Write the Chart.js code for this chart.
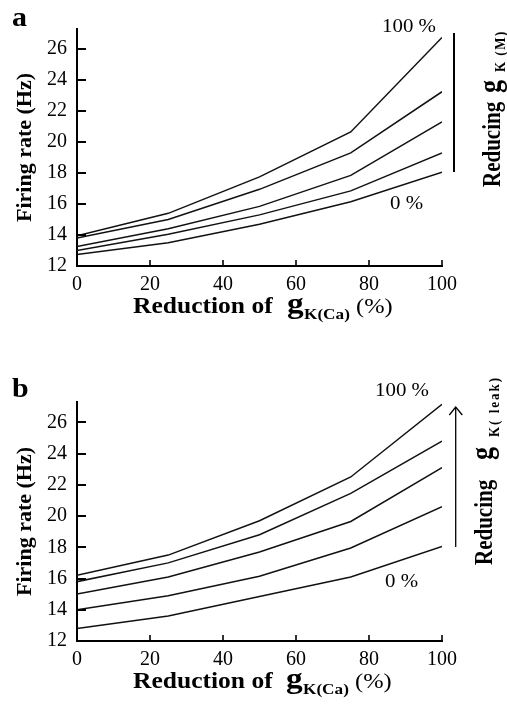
<!DOCTYPE html>
<html><head><meta charset="utf-8">
<script src="https://cdn.jsdelivr.net/npm/chart.js@4.4.1/dist/chart.umd.min.js"></script>
<style>
html,body{margin:0;padding:0;background:#fff;}
#wrap{position:relative;width:507px;height:705px;overflow:hidden;background:#fff;font-family:"Liberation Serif","Times New Roman",serif;color:#000;}
canvas{position:absolute;left:0;}
.t{position:absolute;white-space:nowrap;line-height:1;transform-origin:0 0;}
.h{transform:scaleX(1.11);}
.r{transform:rotate(-90deg) scaleY(1.2);}
.b{font-weight:bold;}
</style></head><body>
<div id="wrap">
<canvas id="ca" width="507" height="330" style="top:0;width:507px;height:330px"></canvas>
<canvas id="cb" width="507" height="375" style="top:330px;width:507px;height:375px"></canvas>

<svg width="507" height="705" style="position:absolute;left:0;top:0">
  <line x1="454" y1="33" x2="454" y2="172" stroke="#000" stroke-width="2"/>
  <line x1="455.7" y1="407.5" x2="455.7" y2="547" stroke="#000" stroke-width="1.3"/>
  <polyline points="449.3,415 455.7,407 462.3,415" fill="none" stroke="#000" stroke-width="1.3"/>
</svg>

<!-- panel letters -->
<div class="t h b" style="left:12px;top:4px;font-size:27px">a</div>
<div class="t h b" style="left:12px;top:375px;font-size:27px">b</div>

<!-- series end labels -->
<div class="t" style="left:382px;top:17px;font-size:18px;transform:scaleX(1.16)">100 %</div>
<div class="t" style="left:390px;top:194px;font-size:18px;transform:scaleX(1.16)">0 %</div>
<div class="t" style="left:375px;top:381px;font-size:18px;transform:scaleX(1.16)">100 %</div>
<div class="t" style="left:385px;top:572px;font-size:18px;transform:scaleX(1.16)">0 %</div>

<!-- x axis titles -->
<div class="t h b" style="left:133px;top:293.7px;font-size:23px">Reduction of</div>
<div class="t h b" style="left:287px;top:288px;font-size:30px">g</div>
<div class="t h b" style="left:304px;top:305.5px;font-size:15.5px">K(Ca)</div>
<div class="t h" style="left:356px;top:294.6px;font-size:22px">(%)</div>

<div class="t h b" style="left:133px;top:668.7px;font-size:23px">Reduction of</div>
<div class="t h b" style="left:286px;top:663px;font-size:30px">g</div>
<div class="t h b" style="left:303px;top:680.5px;font-size:15.5px">K(Ca)</div>
<div class="t h" style="left:355px;top:669.6px;font-size:22px">(%)</div>

<!-- rotated right labels -->
<div class="t r b" style="left:479.9px;top:187px;font-size:21px">Reducing</div>
<div class="t r b" style="left:474.9px;top:93px;font-size:26px">g</div>
<div class="t r b" style="left:491.9px;top:72px;font-size:13px;letter-spacing:1.5px">K (M)</div>

<div class="t r b" style="left:471.9px;top:565px;font-size:21px">Reducing</div>
<div class="t r b" style="left:466.9px;top:460px;font-size:26px">g</div>
<div class="t r b" style="left:485.9px;top:437px;font-size:13px;letter-spacing:2px">K( leak)</div>
</div>

<script>
// ---- data ----
const reductionKCa = [0, 25, 50, 75, 100];          // x: reduction of gK(Ca) (%)
const xTickValues = [0, 20, 40, 60, 80, 100];
const yTickValues = [12, 14, 16, 18, 20, 22, 24, 26];
const yMin = 12;
const yMax = 27.3;

// panel a: reducing gK(M) 0% .. 100%
const a_gKM_100 = [13.95, 15.4, 17.75, 20.65, 26.75];
const a_gKM_75  = [13.8, 15.0, 16.95, 19.3, 23.25];
const a_gKM_50  = [13.25, 14.4, 15.85, 17.85, 21.3];
const a_gKM_25  = [13.0, 14.05, 15.3, 16.85, 19.3];
const a_gKM_0   = [12.75, 13.5, 14.7, 16.15, 18.05];

// panel b: reducing gK(leak) 0% .. 100%
const b_gKleak_100 = [16.2, 17.5, 19.7, 22.5, 27.15];
const b_gKleak_75  = [15.8, 17.0, 18.8, 21.45, 24.8];
const b_gKleak_50  = [15.0, 16.1, 17.7, 19.65, 23.1];
const b_gKleak_25  = [14.0, 14.9, 16.15, 17.95, 20.6];
const b_gKleak_0   = [12.8, 13.6, 14.85, 16.1, 18.05];

const panelA = [a_gKM_100, a_gKM_75, a_gKM_50, a_gKM_25, a_gKM_0];
const panelB = [b_gKleak_100, b_gKleak_75, b_gKleak_50, b_gKleak_25, b_gKleak_0];
const seriesNames = ['100 %', '75 %', '50 %', '25 %', '0 %'];

Chart.defaults.font.family = "'Liberation Serif', 'Times New Roman', serif";
Chart.defaults.color = '#000';

const inwardTicks = {
  id: 'inwardTicks',
  afterDatasetsDraw(chart) {
    const {ctx, chartArea, scales} = chart;
    ctx.save();
    ctx.strokeStyle = '#000';
    ctx.lineWidth = 2;
    scales.y.ticks.forEach(t => {
      if (t.value === scales.y.min) return;
      const py = Math.round(scales.y.getPixelForValue(t.value)) ;
      ctx.beginPath(); ctx.moveTo(chartArea.left, py); ctx.lineTo(chartArea.left + 9, py); ctx.stroke();
    });
    ctx.lineWidth = 1.6;
    scales.x.ticks.forEach(t => {
      if (t.value === scales.x.min) return;
      const px = scales.x.getPixelForValue(t.value);
      ctx.beginPath(); ctx.moveTo(px, chartArea.bottom); ctx.lineTo(px, chartArea.bottom - 6); ctx.stroke();
    });
    ctx.restore();
  }
};

function makeChart(id, series, canvasH, topPad, axisBottom) {
  new Chart(document.getElementById(id), {
    type: 'line',
    data: {
      datasets: series.map((arr, i) => ({
        label: seriesNames[i],
        data: reductionKCa.map((x, k) => ({x: x, y: arr[k]})),
        borderColor: '#111',
        borderWidth: 1.5,
        pointRadius: 0,
        tension: 0,
        fill: false
      }))
    },
    options: {
      responsive: false,
      maintainAspectRatio: false,
      animation: false,
      devicePixelRatio: 1,
      layout: {padding: {left: 0, right: 65, top: topPad, bottom: 0}},
      plugins: {legend: {display: false}, tooltip: {enabled: false}},
      scales: {
        x: {
          type: 'linear',
          min: 0, max: 100,
          bounds: 'data',
          afterBuildTicks: s => { s.ticks = xTickValues.map(v => ({value: v})); },
          afterFit: s => { s.height = canvasH - axisBottom; },
          grid: {display: false, drawTicks: false},
          border: {display: true, color: '#000', width: 2},
          ticks: {font: {size: 20}, color: '#000', padding: 7, maxRotation: 0, autoSkip: false}
        },
        y: {
          type: 'linear',
          min: yMin, max: yMax,
          bounds: 'data',
          afterBuildTicks: s => { s.ticks = yTickValues.map(v => ({value: v})); },
          afterFit: s => { s.width = 77; },
          grid: {display: false, drawTicks: false},
          border: {display: true, color: '#000', width: 2},
          ticks: {font: {size: 20}, color: '#000', padding: 10, autoSkip: false},
          title: {
            display: true,
            text: 'Firing rate (Hz)',
            font: {size: 22, weight: 'bold'},
            color: '#000',
            padding: {top: 12, bottom: 0}
          }
        }
      }
    },
    plugins: [inwardTicks]
  });
}

makeChart('ca', panelA, 330, 29, 266);
makeChart('cb', panelB, 375, 72, 311);
</script>
</body></html>
